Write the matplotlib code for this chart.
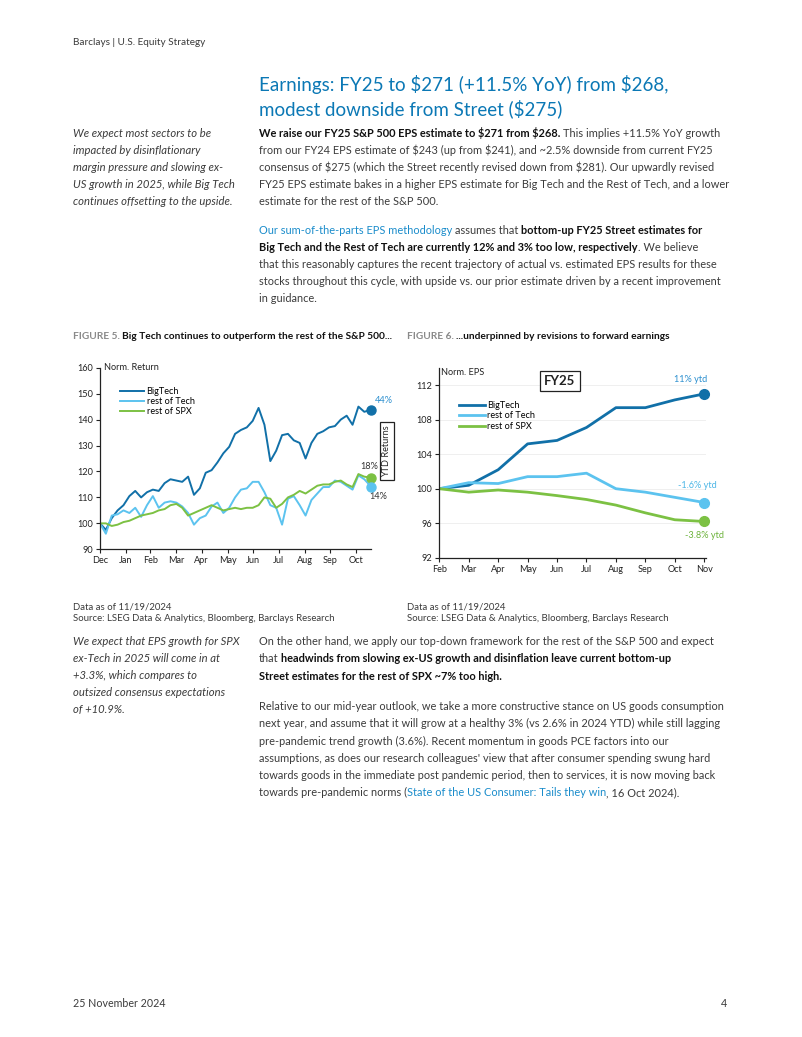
import matplotlib
matplotlib.use("Agg")
import matplotlib.pyplot as plt
import pandas as pd
import numpy as np

plt.rcParams["text.parse_math"] = False

# ---- data: figure 5 (normalised total return, weekly, Dec-23 = 100)
weeks = list(pd.date_range("2023-12-31", periods=46, freq="7D")) + [pd.Timestamp("2024-11-18")]
bigtech_ret = [100, 97.5, 102, 105, 107, 110.5, 112.5, 110, 112, 113, 112.5, 115.5, 117, 116.5,
               116, 118, 111, 113.5, 119.5, 120.5, 123.5, 127, 129.5, 134.5, 136, 137, 139.5,
               144.5, 138, 124, 128, 134, 134.5, 132, 131, 125, 131, 134.5, 135.5, 137, 137.5,
               140, 141.5, 138, 145, 143, 143.8]
resttech_ret = [100, 96, 103, 103.5, 105, 104, 106, 102.5, 107, 110.5, 106, 108, 108.5, 108,
                106.5, 104, 99.5, 102, 103, 106.5, 108, 104, 106, 110, 113, 113.5, 116, 116,
                112, 107, 106, 99.5, 109.5, 110.5, 107, 103, 109, 111.5, 114, 114, 116.5, 116,
                114.5, 113, 118.5, 117, 114.2]
restspx_ret = [100, 100, 99, 99.5, 100.5, 101, 102, 103, 103.5, 104, 105, 105.5, 107, 107.5,
               106, 103, 104, 105, 106, 107, 106, 105, 105.5, 106, 105.5, 106, 106, 107, 110,
               109.5, 106, 107.5, 110, 111, 112.5, 111.5, 113, 114.5, 115, 115, 116, 116.5,
               115, 114, 119, 118, 117.6]
month_ticks = pd.date_range("2023-12-31", "2024-10-31", freq="ME")
month_labels = ["Dec", "Jan", "Feb", "Mar", "Apr", "May", "Jun", "Jul", "Aug", "Sep", "Oct"]

# ---- data: figure 6 (normalised FY25 EPS)
eps_months = ["Feb", "Mar", "Apr", "May", "Jun", "Jul", "Aug", "Sep", "Oct", "Nov"]
bigtech_eps = [100, 100.4, 102.2, 105.2, 105.6, 107.1, 109.4, 109.4, 110.3, 111.0]
resttech_eps = [100, 100.7, 100.6, 101.4, 101.4, 101.8, 100.0, 99.6, 99.0, 98.4]
restspx_eps = [100, 99.6, 99.85, 99.6, 99.2, 98.75, 98.1, 97.2, 96.4, 96.2]

C_BIG = "#1170a8"
C_TECH = "#5cc3ef"
C_SPX = "#7cc143"
C_TITLE = "#0b78b5"
C_LINK = "#1a8ccb"
C_BODY = "#3b3b3b"
FONT = "Lato"
BODY = 7.95
SIDE = 8.1

W, H = 802, 1037
fig = plt.figure(figsize=(W / 100, H / 100), dpi=100)
plt.rcParams["font.family"] = [FONT, "DejaVu Sans"]
rend = fig.canvas.get_renderer()


def fx(px):
    return px / W


def fy(py):
    return 1 - py / H


def rich(x, y, parts, size=BODY):
    # parts: (text, kind) drawn one after another on one line
    x = fx(x)
    for txt, kind in parts:
        kw = dict(fontsize=size, color=C_BODY, fontweight="normal", fontstyle="normal")
        if kind == "b":
            kw.update(fontweight="bold", color="#111111")
        elif kind == "link":
            kw.update(color=C_LINK)
        elif kind == "fig":
            kw.update(fontweight="bold", color="#8a8a8a")
        elif kind == "i":
            kw.update(fontstyle="italic")
        probe = fig.text(0, 0, "a a", **kw)
        probe2 = fig.text(0, 0, "aa", **kw)
        sp = (probe.get_window_extent(rend).width - probe2.get_window_extent(rend).width) / W
        probe.remove()
        probe2.remove()
        lead = txt.startswith(" ")
        trail = txt.endswith(" ")
        s = txt.strip()
        if lead:
            x += sp
        t = fig.text(x, fy(y), s, va="baseline", ha="left", **kw)
        x += t.get_window_extent(rend).width / W
        if trail:
            x += sp


# ---- page text
rich(73, 45, [("Barclays | U.S. Equity Strategy", "n")], size=7.2)
fig.text(fx(259), fy(91), "Earnings: FY25 to $271 (+11.5% YoY) from $268,", fontsize=13.5, color=C_TITLE)
fig.text(fx(259), fy(115), "modest downside from Street ($275)", fontsize=13.5, color=C_TITLE)

side1 = ["We expect most sectors to be", "impacted by disinflationary", "margin pressure and slowing ex-",
         "US growth in 2025, while Big Tech", "continues offsetting to the upside."]
for i, s in enumerate(side1):
    rich(73, 137 + i * 17, [(s, "i")], size=SIDE)

body1 = [
    [("We raise our FY25 S&P 500 EPS estimate to $271 from $268. ", "b"), ("This implies +11.5% YoY growth", "n")],
    [("from our FY24 EPS estimate of $243 (up from $241), and ~2.5% downside from current FY25", "n")],
    [("consensus of $275 (which the Street recently revised down from $281). Our upwardly revised", "n")],
    [("FY25 EPS estimate bakes in a higher EPS estimate for Big Tech and the Rest of Tech, and a lower", "n")],
    [("estimate for the rest of the S&P 500.", "n")],
]
for i, p in enumerate(body1):
    rich(259, 137 + i * 17, p)

body2 = [
    [("Our sum-of-the-parts EPS methodology", "link"), (" assumes that ", "n"),
     ("bottom-up FY25 Street estimates for", "b")],
    [("Big Tech and the Rest of Tech are currently 12% and 3% too low, respectively", "b"), (". We believe", "n")],
    [("that this reasonably captures the recent trajectory of actual vs. estimated EPS results for these", "n")],
    [("stocks throughout this cycle, with upside vs. our prior estimate driven by a recent improvement", "n")],
    [("in guidance.", "n")],
]
for i, p in enumerate(body2):
    rich(259, 234 + i * 17, p)

rich(73, 339, [("FIGURE 5. ", "fig"), ("Big Tech continues to outperform the rest of the S&P 500...", "b")], size=7.3)
rich(407, 339, [("FIGURE 6. ", "fig"), ("...underpinned by revisions to forward earnings", "b")], size=7.3)

for xx in (73, 407):
    rich(xx, 609, [("Data as of 11/19/2024", "n")], size=6.9)
    rich(xx, 621, [("Source: LSEG Data & Analytics, Bloomberg, Barclays Research", "n")], size=6.9)

side2 = ["We expect that EPS growth for SPX", "ex-Tech in 2025 will come in at", "+3.3%, which compares to",
         "outsized consensus expectations", "of +10.9%."]
for i, s in enumerate(side2):
    rich(73, 645 + i * 17, [(s, "i")], size=SIDE)

body3 = [
    [("On the other hand, we apply our top-down framework for the rest of the S&P 500 and expect", "n")],
    [("that", "n"), (" headwinds from slowing ex-US growth and disinflation leave current bottom-up", "b")],
    [("Street estimates for the rest of SPX ~7% too high.", "b")],
]
for i, p in enumerate(body3):
    rich(259, 645 + i * 17.5, p)

body4 = [
    [("Relative to our mid-year outlook, we take a more constructive stance on US goods consumption", "n")],
    [("next year, and assume that it will grow at a healthy 3% (vs 2.6% in 2024 YTD) while still lagging", "n")],
    [("pre-pandemic trend growth (3.6%). Recent momentum in goods PCE factors into our", "n")],
    [("assumptions, as does our research colleagues' view that after consumer spending swung hard", "n")],
    [("towards goods in the immediate post pandemic period, then to services, it is now moving back", "n")],
    [("towards pre-pandemic norms (", "n"), ("State of the US Consumer: Tails they win", "link"),
     (", 16 Oct 2024).", "n")],
]
for i, p in enumerate(body4):
    rich(259, 710 + i * 17.3, p)

rich(73, 1007, [("25 November 2024", "n")], size=7.7)
fig.text(fx(727), fy(1007), "4", fontsize=7.7, color=C_BODY, ha="right", va="baseline")

# ---- Figure 5
ax1 = fig.add_axes([fx(100), fy(549.3), fx(371) - fx(100), fy(367.7) - fy(549.3)])
ax1.plot(weeks, bigtech_ret, color=C_BIG, lw=1.4, label="BigTech")
ax1.plot(weeks, resttech_ret, color=C_TECH, lw=1.4, label="rest of Tech")
ax1.plot(weeks, restspx_ret, color=C_SPX, lw=1.4, label="rest of SPX")
for vals, c in ((bigtech_ret, C_BIG), (restspx_ret, C_SPX), (resttech_ret, C_TECH)):
    ax1.plot(weeks[-1], vals[-1], "o", color=c, ms=6.5, clip_on=False, zorder=5)
ax1.set_ylim(90, 160)
ax1.set_yticks(range(90, 161, 10))
ax1.set_xlim(weeks[0], weeks[-1])
ax1.set_xticks(month_ticks)
ax1.set_xticklabels(month_labels)
ax1.text(0.015, 1.0, "Norm. Return", transform=ax1.transAxes, fontsize=6.6, va="center", color="#222222")
ax1.annotate("44%", (weeks[-1], bigtech_ret[-1]), xytext=(9, 7), textcoords="offset points",
             fontsize=6.6, color="#2b8fcf", ha="center", va="center", annotation_clip=False)
ax1.annotate("18%", (weeks[-1], restspx_ret[-1]), xytext=(-1, 8), textcoords="offset points",
             fontsize=6.6, color="#333333", ha="center", va="center", annotation_clip=False)
ax1.annotate("14%", (weeks[-1], resttech_ret[-1]), xytext=(5, -7), textcoords="offset points",
             fontsize=6.6, color="#333333", ha="center", va="center", annotation_clip=False)
fig.text(fx(387), fy(451), "YTD Returns", rotation=90, fontsize=6.6, ha="center", va="center",
         color="#222222", bbox=dict(boxstyle="square,pad=0.3", fc="white", ec="#222222", lw=0.9))
ax1.legend(loc="upper left", bbox_to_anchor=(0.05, 0.93), frameon=False, fontsize=6.6,
           handlelength=2.6, handletextpad=0.3, labelspacing=0.12, borderpad=0.2)

# ---- Figure 6
ax2 = fig.add_axes([fx(439.3), fy(557.7), fx(706) - fx(439.3), fy(368) - fy(557.7)])
xs = np.arange(len(eps_months))
ax2.plot(xs, bigtech_eps, color=C_BIG, lw=2, label="BigTech")
ax2.plot(xs, resttech_eps, color=C_TECH, lw=2, label="rest of Tech")
ax2.plot(xs, restspx_eps, color=C_SPX, lw=2, label="rest of SPX")
for vals, c in ((bigtech_eps, C_BIG), (resttech_eps, C_TECH), (restspx_eps, C_SPX)):
    ax2.plot(xs[-1], vals[-1], "o", color=c, ms=7, clip_on=False, zorder=5)
ax2.set_ylim(92, 114)
ax2.set_yticks(range(92, 113, 4))
ax2.set_xlim(0, len(eps_months) - 1 + 0.06)
ax2.set_xticks(xs)
ax2.set_xticklabels(eps_months)
ax2.grid(axis="y", color="#ececec", lw=0.6)
ax2.set_axisbelow(True)
ax2.text(0.005, 0.975, "Norm. EPS", transform=ax2.transAxes, fontsize=6.6, va="center", color="#222222")
ax2.text(4.1, 112.5, "FY25", fontsize=9.5, fontweight="bold", ha="center", va="center", color="#222222",
         bbox=dict(boxstyle="square,pad=0.3", fc="white", ec="#222222", lw=0.9))
ax2.annotate("11% ytd", (xs[-1], bigtech_eps[-1]), xytext=(-10, 10.5), textcoords="offset points",
             fontsize=6.6, color="#2b8fcf", ha="center", va="center", annotation_clip=False)
ax2.annotate("-1.6% ytd", (xs[-1], resttech_eps[-1]), xytext=(-5, 12), textcoords="offset points",
             fontsize=6.6, color="#4cb6e6", ha="center", va="center", annotation_clip=False)
ax2.annotate("-3.8% ytd", (xs[-1], restspx_eps[-1]), xytext=(0, -10), textcoords="offset points",
             fontsize=6.6, color="#6cb23a", ha="center", va="center", annotation_clip=False)
ax2.legend(loc="upper left", bbox_to_anchor=(0.05, 0.86), frameon=False, fontsize=6.6,
           handlelength=2.8, handletextpad=0.3, labelspacing=0.15, borderpad=0.2)

for ax in (ax1, ax2):
    for s in ("top", "right"):
        ax.spines[s].set_visible(False)
    for s in ("left", "bottom"):
        ax.spines[s].set_color("#222222")
        ax.spines[s].set_linewidth(0.9)
    ax.tick_params(labelsize=6.6, length=3, width=0.8, colors="#222222", pad=2)

fig.savefig("out.png", dpi=100)
